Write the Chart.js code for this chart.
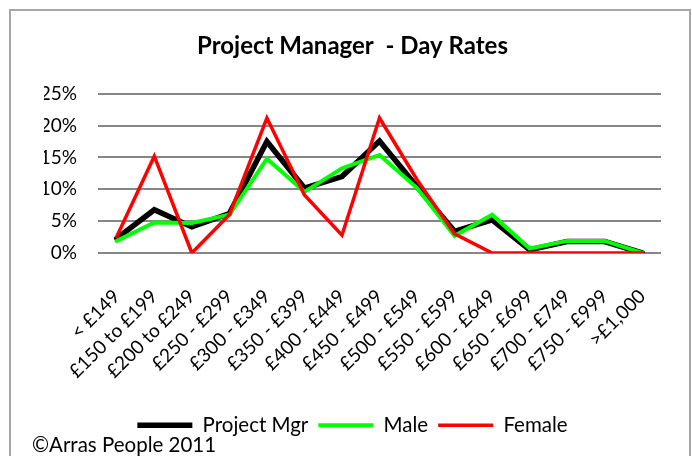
<!DOCTYPE html>
<html>
<head>
<meta charset="utf-8">
<script src="https://cdn.jsdelivr.net/npm/chart.js@4"></script>
<style>
  html, body { margin: 0; padding: 0; background: #fff; }
  #wrap { position: relative; width: 692px; height: 456px; overflow: hidden; }
  #frame { position: absolute; left: 9px; top: 9px; width: 678px; height: 480px;
           border: 2px solid #a6a6a6; border-bottom: none; }
  canvas { position: absolute; left: 0; top: 0; }
</style>
</head>
<body>
<div id="wrap">
  <div id="frame"></div>
  <canvas id="c" width="692" height="456"></canvas>
</div>
<script>
// 類別與數值 (百分比)
const categories = ['< £149', '£150 to £199', '£200 to £249', '£250 - £299', '£300 - £349',
  '£350 - £399', '£400 - £449', '£450 - £499', '£500 - £549', '£550 - £599',
  '£600 - £649', '£650 - £699', '£700 - £749', '£750 - £999', '>£1,000'];
const projectMgr = [2.3, 6.8, 4.1, 6.2, 17.5, 10.2, 12.0, 17.6, 10.4, 3.4, 5.2, 0.5, 1.8, 1.8, 0];
const male = [1.9, 4.8, 4.7, 6.0, 14.8, 9.6, 13.3, 15.4, 10.2, 2.7, 6.0, 0.7, 1.9, 1.9, 0];
const female = [2.6, 15.2, 0, 6.0, 21.2, 9.1, 2.8, 21.2, 11.5, 3.0, 0, 0, 0, 0, 0];
const yTicks = [0, 5, 10, 15, 20, 25];

const FONT = 'Lato';

// 版權文字
const copyright = {
  id: 'copyright',
  afterDraw(chart) {
    const c = chart.ctx;
    c.save();
    c.font = '20.5px ' + FONT;
    c.fillStyle = '#000';
    c.textBaseline = 'middle';
    c.textAlign = 'left';
    c.fillText('©Arras People 2011', 32, 445);
    c.restore();
  }
};

const config = {
  type: 'line',
  data: {
    labels: categories,
    datasets: [
      // 第一個資料集畫在最上層
      { label: 'Female', data: female, borderColor: '#ff0000', backgroundColor: '#ff0000', borderWidth: 3.5 },
      { label: 'Male', data: male, borderColor: '#00ff00', backgroundColor: '#00ff00', borderWidth: 4 },
      { label: 'Project Mgr', data: projectMgr, borderColor: '#000000', backgroundColor: '#000000', borderWidth: 5.5 }
    ]
  },
  options: {
    responsive: false,
    animation: false,
    elements: {
      point: { radius: 0, pointStyle: 'line' },
      line: { tension: 0, borderCapStyle: 'round' }
    },
    layout: { padding: { left: 44, right: 31, top: 0, bottom: 10.5 } },
    plugins: {
      title: {
        display: true,
        text: 'Project Manager  - Day Rates',
        color: '#000',
        font: { family: FONT, size: 24, weight: 'bold' },
        padding: { top: 32, bottom: 33 }
      },
      legend: {
        position: 'bottom',
        reverse: true,
        labels: {
          color: '#000',
          font: { family: FONT, size: 20.5 },
          usePointStyle: true,
          pointStyle: 'line',
          pointStyleWidth: 55,
          padding: 10
        }
      },
      tooltip: { enabled: false }
    },
    scales: {
      x: {
        offset: true,
        grid: { display: false },
        border: { display: false },
        ticks: {
          color: '#000',
          font: { family: FONT, size: 19 },
          maxRotation: 45,
          minRotation: 45,
          autoSkip: false,
          padding: 24
        },
        afterFit(s) { s.height = 152; }
      },
      y: {
        min: 0,
        max: 25,
        afterBuildTicks(s) { s.ticks = yTicks.map(v => ({ value: v })); },
        grid: { color: '#868686', lineWidth: 2, drawTicks: false },
        border: { display: false },
        ticks: {
          color: '#000',
          font: { family: FONT, size: 19 },
          padding: 21,
          callback: v => v + '%'
        },
        afterFit(s) { s.width = 54; }
      }
    }
  },
  plugins: [copyright]
};

new Chart(document.getElementById('c'), config);
</script>
</body>
</html>
